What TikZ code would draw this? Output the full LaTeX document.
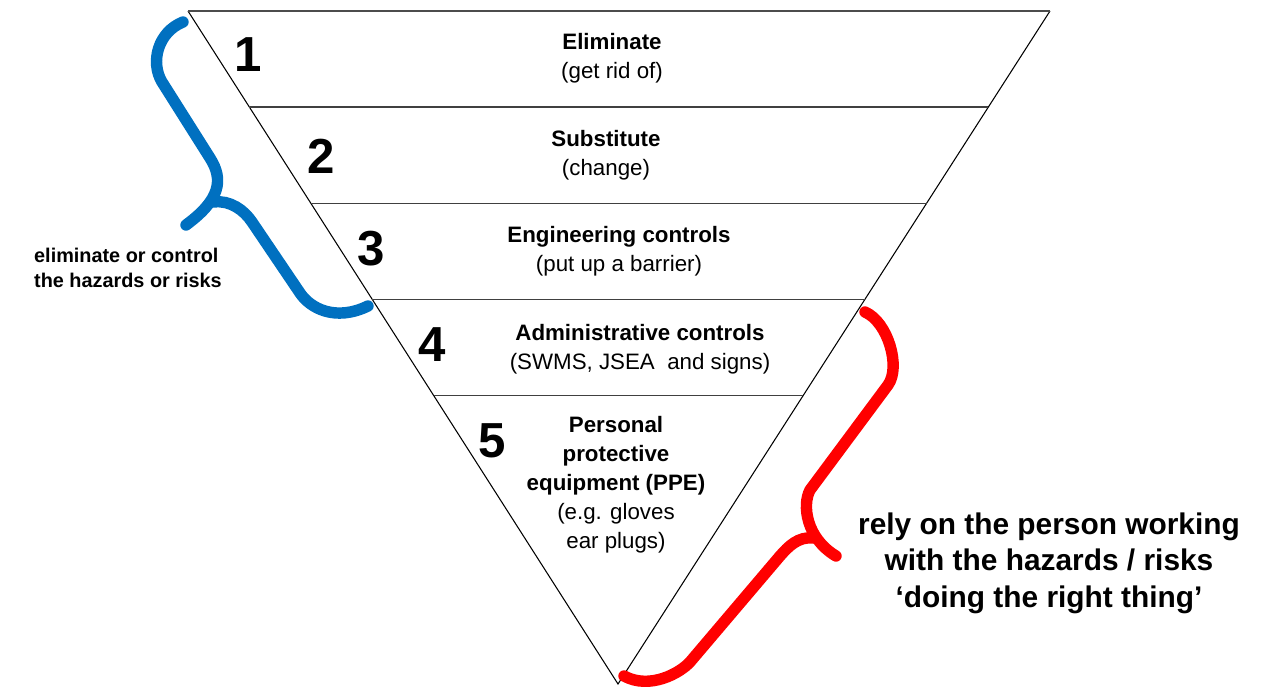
\documentclass[tikz,border=0pt]{standalone}
\usepackage{fontspec}
\setmainfont{Liberation Sans}
\usepackage{tikz}
\usetikzlibrary{calc}

\definecolor{braceblue}{RGB}{0,112,192}

\tikzset{
  levelnum/.style = {font = \fontsize{28}{32}\selectfont\bfseries},
  leveltext/.style = {align = center, font = \fontsize{12.7}{16.5}\selectfont},
  bracestroke/.style = {line width = 6.5pt, line cap = round}
}

\begin{document}
\begin{tikzpicture}[x = 0.02cm, y = -0.02cm]
\useasboundingbox (0, 0) rectangle (1274, 693);

\coordinate (tl) at (188, 11);
\coordinate (tr) at (1050, 11);
\coordinate (apex) at (618, 684);

\draw [black, line width = 0.6pt] (tl) -- (apex) -- (tr);
\draw [black!70, line width = 1pt] (tl) -- (tr);
\foreach \k in {1,...,4}
  \draw [black!75, line width = 0.85pt] ($(tl)!\k/7!(apex)$) -- ($(tr)!\k/7!(apex)$);

\node [levelnum] (num1) at (248, 55) {1};
\node [levelnum] (num2) at (321, 156) {2};
\node [levelnum] (num3) at (371, 249) {3};
\node [levelnum] (num4) at (432, 345) {4};
\node [levelnum] (num5) at (492, 441) {5};

\node [leveltext] (elim) at (612, 58) {\textbf{Eliminate}\\(get rid of)};
\node [leveltext] (subst) at (606, 155) {\textbf{Substitute}\\(change)};
\node [leveltext] (eng) at (619, 251) {\textbf{Engineering controls}\\(put up a barrier)};
\node [leveltext] (admin) at (640, 349) {\textbf{Administrative controls}\\(SWMS, JSEA\ \ and signs)};
\node [leveltext] (ppe) at (616, 485) {\textbf{Personal}\\\textbf{protective}\\\textbf{equipment (PPE)}\\(e.g. gloves\\ear plugs)};

%\node [below] at (618, 690) {hierarchy};
\node [anchor = west, align = left, font = \fontsize{11.3}{14.2}\selectfont\bfseries] (elimnote) at (28, 268) {eliminate or control\\the hazards or risks};
\node [align = center, font = \fontsize{17}{20.8}\selectfont\bfseries] (relynote) at (1049, 563) {rely on the person working\\with the hazards / risks\\‘doing the right thing’};

\draw [bracestroke, braceblue] (183, 22) .. controls (158, 32) and (150, 62) .. (162, 82) -- (210, 158) .. controls (224, 180) and (220, 200) .. (186, 225);
\draw [bracestroke, braceblue] (214, 202) .. controls (230, 200) and (244, 210) .. (252, 222) -- (300, 293) .. controls (310, 308) and (335, 322) .. (368, 306);

\draw [bracestroke, red] (865, 312) .. controls (888, 322) and (901, 367) .. (888, 385) -- (810, 490) .. controls (802, 505) and (806, 538) .. (836, 556);
\draw [bracestroke, red] (814, 538) .. controls (798, 536) and (788, 547) .. (780, 556) -- (690, 662) .. controls (680, 673) and (650, 690) .. (624, 676);

\end{tikzpicture}
\end{document}
